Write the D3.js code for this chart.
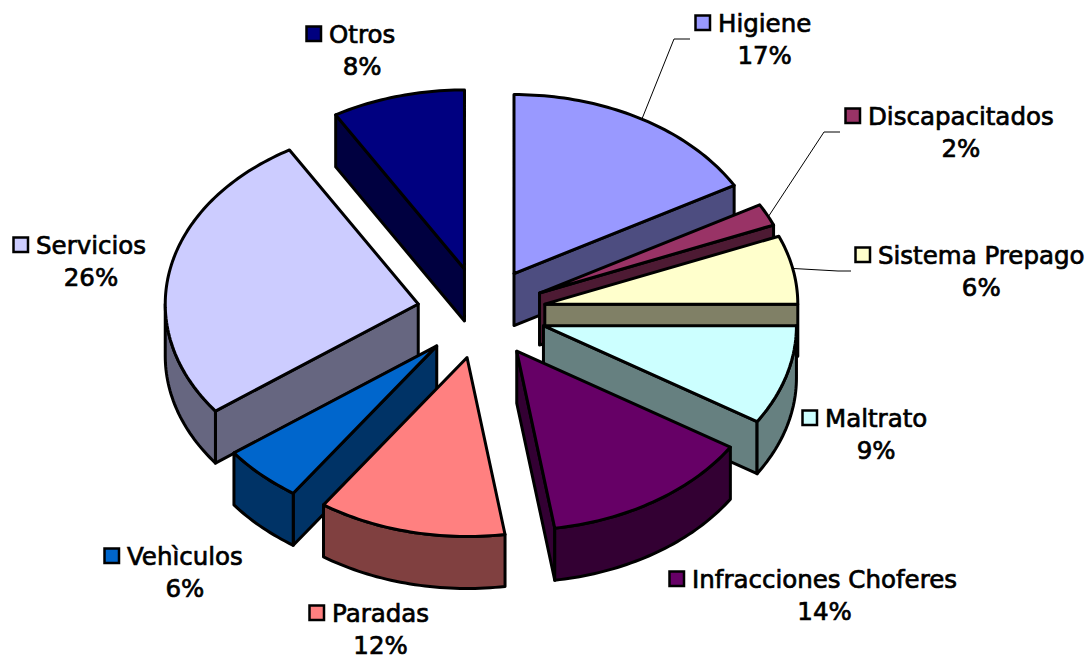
<!DOCTYPE html>
<html>
<head>
<meta charset="utf-8">
<script src="https://cdn.jsdelivr.net/npm/d3@7"></script>
<style>
  html, body { margin: 0; padding: 0; background: #fff; }
  text { font-family: "DejaVu Sans", Verdana, sans-serif; font-size: 24.5px; fill: #000; stroke: #000; stroke-width: 0.7px; }
</style>
</head>
<body>
<div id="chart"></div>
<script>
const categories = ["Higiene", "Discapacitados", "Sistema Prepago", "Maltrato", "Infracciones Choferes", "Paradas", "Vehìculos", "Servicios", "Otros"];
const shares = [16.8, 2, 6.2, 9, 13.6, 12, 5.2, 26.7, 8.5];
const percentLabels = ["17%", "2%", "6%", "9%", "14%", "12%", "6%", "26%", "8%"];
const colors = ["#9999FF", "#993366", "#FFFFCC", "#CCFFFF", "#660066", "#FF8080", "#0066CC", "#CCCCFF", "#000080"];

// Where each label sits: left of the name, baseline of the name
const labelX = [718, 868, 878, 825, 692, 332, 127, 36, 329];
const labelY = [32, 125, 264, 427, 588, 622, 565, 254, 43];

const width = 1091, height = 656;
const center = {x: 481.5, y: 313};
const rx = 253, ry = 179, depth = 52, explode = 0.255;

const svg = d3.select("#chart")
              .append("svg")
              .attr("width", width)
              .attr("height", height)
              .style("display", "block");

// Flattened pie: unit circle -> ellipse on the page
const x = d3.scaleLinear().domain([-1, 1]).range([center.x - rx, center.x + rx]);
const y = d3.scaleLinear().domain([-1, 1]).range([center.y - ry, center.y + ry]);
const line = d3.line().x(d => d[0]).y(d => d[1]);

const slices = d3.pie().sort(null).value(d => d)(shares).map((s, i) => {
    const mid = (s.startAngle + s.endAngle) / 2;
    return {...s, i, mid, ox: Math.sin(mid) * explode, oy: -Math.cos(mid) * explode};
});

// Point on a slice: r in unit radius, a clockwise from the top
function pt(s, a, r, drop) {
    return [x(s.ox + Math.sin(a) * r), y(s.oy - Math.cos(a) * r) + drop];
}

function arcPoints(s, a0, a1, drop) {
    const n = Math.max(2, Math.ceil((a1 - a0) / 0.02));
    return d3.range(n + 1).map(k => pt(s, a0 + (a1 - a0) * k / n, 1, drop));
}

function halfColor(c) {
    const r = d3.rgb(c);
    return d3.rgb(r.r / 2, r.g / 2, r.b / 2).formatHex();
}

// Back slices first so the front ones paint over them
const order = slices.slice().sort((a, b) => -Math.cos(a.mid) - -Math.cos(b.mid));
const PI = Math.PI;

order.forEach(s => {
    const g = svg.append("g");
    const side = halfColor(colors[s.i]);
    const drawFace = pts => g.append("path")
        .attr("d", line(pts) + "Z")
        .attr("fill", side)
        .attr("stroke", "#000")
        .attr("stroke-width", 3)
        .attr("stroke-linejoin", "round");

    // Radial walls, only the ones facing the viewer
    if (s.endAngle > 0 && s.endAngle < PI) {
        drawFace([pt(s, 0, 0, 0), pt(s, s.endAngle, 1, 0), pt(s, s.endAngle, 1, depth), pt(s, 0, 0, depth)]);
    }
    if (s.startAngle > PI && s.startAngle < 2 * PI) {
        drawFace([pt(s, 0, 0, 0), pt(s, s.startAngle, 1, 0), pt(s, s.startAngle, 1, depth), pt(s, 0, 0, depth)]);
    }
    // Outer rim
    const lo = Math.max(s.startAngle, PI / 2), hi = Math.min(s.endAngle, 3 * PI / 2);
    if (hi > lo) {
        drawFace(arcPoints(s, lo, hi, 0).concat(arcPoints(s, lo, hi, depth).reverse()));
    }
    // Top face
    g.append("path")
        .attr("d", line([pt(s, 0, 0, 0)].concat(arcPoints(s, s.startAngle, s.endAngle, 0))) + "Z")
        .attr("fill", colors[s.i])
        .attr("stroke", "#000")
        .attr("stroke-width", 3)
        .attr("stroke-linejoin", "round");
});

// Leader lines for the three labels on the upper right
const leaders = [
    {i: 0, a: 0.53, pts: [[674, 39], [690, 39]]},
    {i: 1, a: 1.13, pts: [[824, 132], [840, 132]]},
    {i: 2, a: 1.37, pts: [[838, 271], [851, 271]]}
];
leaders.forEach(l => {
    svg.append("path")
       .attr("d", line([pt(slices[l.i], l.a, 1, 0)].concat(l.pts)))
       .attr("fill", "none")
       .attr("stroke", "#000")
       .attr("stroke-width", 1);
});

// Labels: swatch, name, percent centred under the name
categories.forEach((name, i) => {
    const t = svg.append("text").attr("x", labelX[i]).attr("y", labelY[i]).text(name);
    const w = t.node().getComputedTextLength();
    svg.append("text")
       .attr("x", labelX[i] + w / 2)
       .attr("y", labelY[i] + 32)
       .attr("text-anchor", "middle")
       .text(percentLabels[i]);
    svg.append("rect")
       .attr("x", labelX[i] - 22.5)
       .attr("y", labelY[i] - 16.5)
       .attr("width", 14.5)
       .attr("height", 14.5)
       .attr("fill", colors[i])
       .attr("stroke", "#000")
       .attr("stroke-width", 2.5);
});
</script>
</body>
</html>
